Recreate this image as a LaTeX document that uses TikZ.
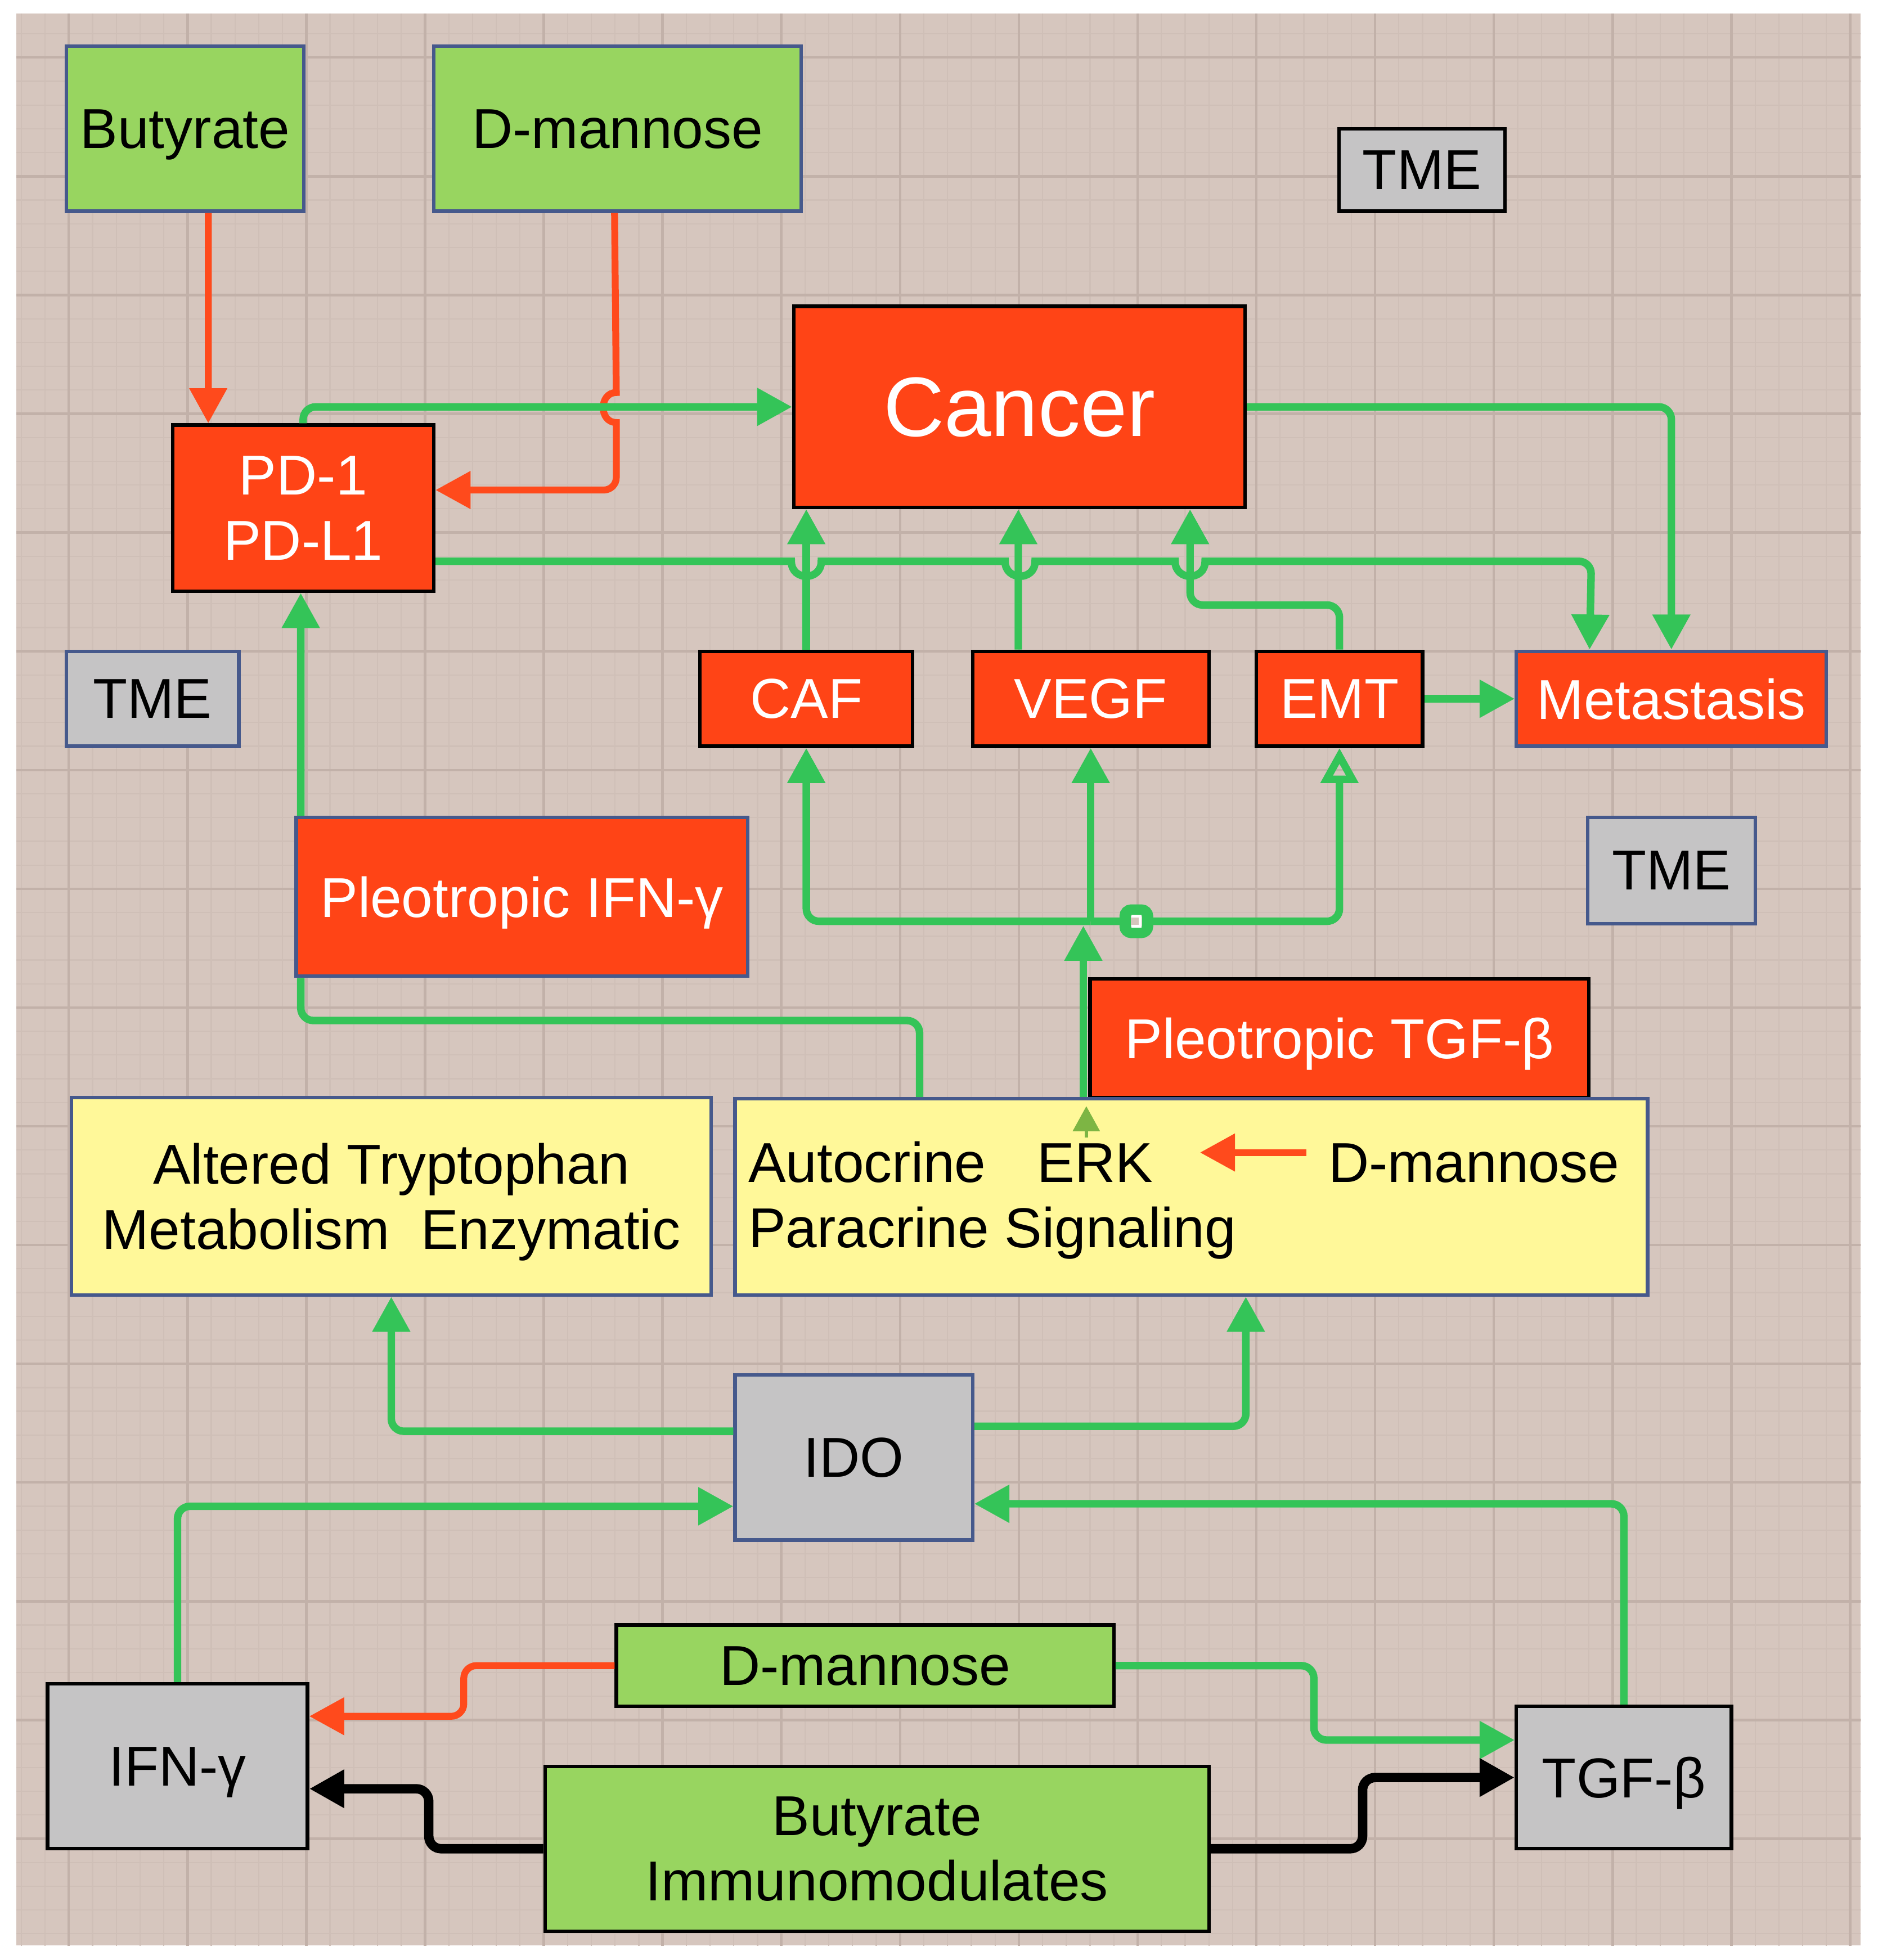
\documentclass[tikz,border=0pt]{standalone}
\usepackage{fontspec}
\setmainfont{Liberation Sans}
\usetikzlibrary{arrows.meta,calc}
\definecolor{bgc}{HTML}{D6C6BE}
\definecolor{gridminor}{HTML}{CFBFB7}
\definecolor{gridmajor}{HTML}{C2B1A9}
\definecolor{redf}{HTML}{FF4416}
\definecolor{greenf}{HTML}{98D560}
\definecolor{yellowf}{HTML}{FFF899}
\definecolor{grayf}{HTML}{C5C4C5}
\definecolor{blueb}{HTML}{46598C}
\definecolor{gline}{HTML}{34C458}
\definecolor{rline}{HTML}{FF4A1C}
\definecolor{olivec}{HTML}{7DB544}
\tikzset{
  bx/.style={rectangle, inner sep=0pt, line width=0.28mm, align=center, text depth=0pt,
    font=\fontsize{12.8pt}{14.8pt}\selectfont},
  redbox/.style={bx, fill=redf, draw=black, text=white},
  greenbox/.style={bx, fill=greenf, draw=blueb},
  yellowbox/.style={bx, fill=yellowf, draw=blueb},
  graybox/.style={bx, fill=grayf, draw=blueb},
  txt/.style={inner sep=0pt, font=\fontsize{12.8pt}{14.8pt}\selectfont},
  gl/.style={draw=gline, line width=0.6mm},
  rl/.style={draw=rline, line width=0.55mm},
  bl/.style={draw=black, line width=0.75mm},
  ar/.style={-{Triangle[length=2.8mm,width=2.9mm]}},
  oar/.style={-{Triangle[open,length=2.8mm,width=2.9mm]}},
  rc/.style={rounded corners=1mm}
}
\begin{document}
\begin{tikzpicture}[x=0.1mm,y=-0.1mm]
\useasboundingbox (0,0) rectangle (1502,1568);
\fill[white] (0,0) rectangle (1502,1568);
\fill[bgc] (13,11) rectangle (1488.5,1556.5);
\begin{scope}
\clip (13,11) rectangle (1488.5,1556.5);
\foreach \i in {0,...,77} {\draw[gridminor, line width=0.1mm] ({17+19*\i},11) -- ({17+19*\i},1557);}
\foreach \i in {1,...,81} {\draw[gridminor, line width=0.1mm] (13,{8+19*\i}) -- (1489,{8+19*\i});}
\foreach \i in {0,...,15} {\draw[gridmajor, line width=0.2mm] ({55+95*\i},11) -- ({55+95*\i},1557);}
\foreach \i in {0,...,16} {\draw[gridmajor, line width=0.2mm] (13,{46+95*\i}) -- (1489,{46+95*\i});}
\end{scope}

% nodes
\node[greenbox, minimum width=19mm, minimum height=13.2mm] (butA) at (148,103) {Butyrate};
\node[greenbox, minimum width=29.4mm, minimum height=13.2mm] (dmanA) at (494,103) {D-mannose};
\node[graybox, draw=black, minimum width=13.3mm, minimum height=6.6mm] (tmeA) at (1137.5,136) {TME};
\node[redbox, minimum width=36.1mm, minimum height=16.1mm, font=\fontsize{19.2pt}{22pt}\selectfont] (cancer) at (815.5,325.5) {Cancer};
\node[redbox, minimum width=20.9mm, minimum height=13.3mm] (pd) at (242.5,406.5) {PD-1\\PD-L1};
\node[graybox, minimum width=13.8mm, minimum height=7.6mm] (tmeB) at (122,559) {TME};
\node[redbox, minimum width=17mm, minimum height=7.6mm] (caf) at (645,559) {CAF};
\node[redbox, minimum width=18.9mm, minimum height=7.6mm] (vegf) at (872.5,559) {VEGF};
\node[redbox, minimum width=13.3mm, minimum height=7.6mm] (emt) at (1071.5,559) {EMT};
\node[redbox, draw=blueb, minimum width=24.8mm, minimum height=7.6mm] (meta) at (1337,559) {Metastasis};
\node[graybox, minimum width=13.4mm, minimum height=8.5mm] (tmeC) at (1337,696.5) {TME};
\node[redbox, draw=blueb, minimum width=36.1mm, minimum height=12.7mm] (pifn) at (417.5,717.5) {Pleotropic IFN-γ};
\node[redbox, minimum width=39.9mm, minimum height=9.5mm] (ptgf) at (1071.5,830.5) {Pleotropic TGF-β};
\node[yellowbox, minimum width=51.2mm, minimum height=15.8mm] (alt) at (313,957) {Altered Tryptophan\\Metabolism\ \ Enzymatic};
\node[yellowbox, minimum width=73mm, minimum height=15.7mm] (auto) at (953,957.5) {};
\node[txt, anchor=base west] (autoT) at (598,946) {Autocrine};
\node[txt, anchor=base west] (erk) at (829,946) {ERK};
\node[txt, anchor=base west] (para) at (598,998) {Paracrine Signaling};
\node[txt, anchor=base west] (dm2) at (1062,946) {D-mannose};
\node[graybox, minimum width=19mm, minimum height=13.2mm] (ido) at (683,1166) {IDO};
\node[greenbox, draw=black, minimum width=39.8mm, minimum height=6.5mm] (dmanC) at (692,1332.5) {D-mannose};
\node[graybox, draw=black, minimum width=20.8mm, minimum height=13.2mm] (ifn) at (142,1413) {IFN-γ};
\node[greenbox, draw=black, minimum width=53.1mm, minimum height=13.2mm] (butC) at (701.5,1479) {Butyrate\\Immunomodulates};
\node[graybox, draw=black, minimum width=17.2mm, minimum height=11.4mm] (tgf) at (1299,1422) {TGF-β};

% connectors (top part)
\draw[rl,ar] ($(butA.south west)+(115,0)$) -- ($(pd.north west)+(30,0)$);
\draw[rl,ar] ($(dmanA.south west)+(146,0)$) -- (493,314) .. controls (479,314) and (479,338) .. (493,338) [rounded corners=1mm] -- (493,392) -- ($(pd.east)+(0,-14.5)$);
\draw[gl,ar,rc] (pd.north) |- (cancer.west);
\draw[gl,ar,rc] (cancer.east) -| (meta.north);
\draw[gl,ar] ($(pd.east)+(0,42.5)$) -- (633,449) .. controls (633,465) and (657,465) .. (657,449)
  -- (804,449) .. controls (804,465) and (828,465) .. (828,449)
  -- (940,449) .. controls (940,465) and (964,465) .. (964,449)
  [rounded corners=1mm] -- (1273,449) -- ($(meta.north west)+(60,0)$);
\draw[gl,ar] (caf.north) -- (caf.north |- cancer.south);
\draw[gl,ar] ($(vegf.north west)+(38,0)$) -- ($(cancer.south west)+(181,0)$);
\coordinate (e1) at (952,484);
\draw[gl,ar,rc] (emt.north) |- (e1) -- (e1 |- cancer.south);
\draw[gl,ar] (emt.east) -- (meta.west);

% IFN-gamma pleotropic path
\draw[gl,rc] ($(auto.north west)+(149,0)$) |- ($(pifn.south west)+(5,34)$) -- ($(pifn.south west)+(5,0)$);
\draw[gl,ar] ($(pifn.north west)+(5,0)$) -- ($(pd.south west)+(104,0)$);

% ERK bus
\draw[gl,ar] ($(auto.north west)+(280,0)$) -- ++(0,-137);
\coordinate (bus) at (872.5,737);
\draw[gl,ar,rc] (bus) -| (caf.south);
\draw[gl,oar,rc] (bus) -| (emt.south);
\draw[gl,ar] (bus) -- (vegf.south);
\draw[gline, line width=0.9mm, fill=bgc, rounded corners=0.5mm] (900,728) rectangle (918,746);
\draw[white, line width=0.2mm] (905,733) -- (912,733) -- (912,741) -- (905,741);
\fill[olivec] (869,885) -- (880,905) -- (858,905) -- cycle;
\draw[olivec, line width=0.3mm] (869,904) -- (869,910);

% D-mannose -> ERK
\draw[rl,ar] ($(dm2.base west)+(-17,-24)$) -- ($(erk.base east)+(37,-24)$);

% IDO
\draw[gl,ar,rc] ($(ido.west)+(0,-21)$) -| (alt.south);
\draw[gl,ar,rc] ($(ido.east)+(0,-25)$) -| ($(auto.south west)+(410,0)$);
\draw[gl,ar,rc] (ifn.north) |- ($(ido.west)+(0,39)$);
\draw[gl,ar,rc] (tgf.north) |- ($(ido.east)+(0,37)$);

% bottom
\draw[rl,ar,rc] (dmanC.west) -| (371,1352) |- ($(ifn.east)+(0,-40)$);
\draw[gl,ar,rc] (dmanC.east) -| (1051,1360) |- ($(tgf.west)+(0,-30)$);
\draw[bl,ar,rc] (butC.west) -| (343,1455) |- ($(ifn.east)+(0,18)$);
\draw[bl,ar,rc] (butC.east) -| (1090,1450) |- (tgf.west);
\end{tikzpicture}
\end{document}
